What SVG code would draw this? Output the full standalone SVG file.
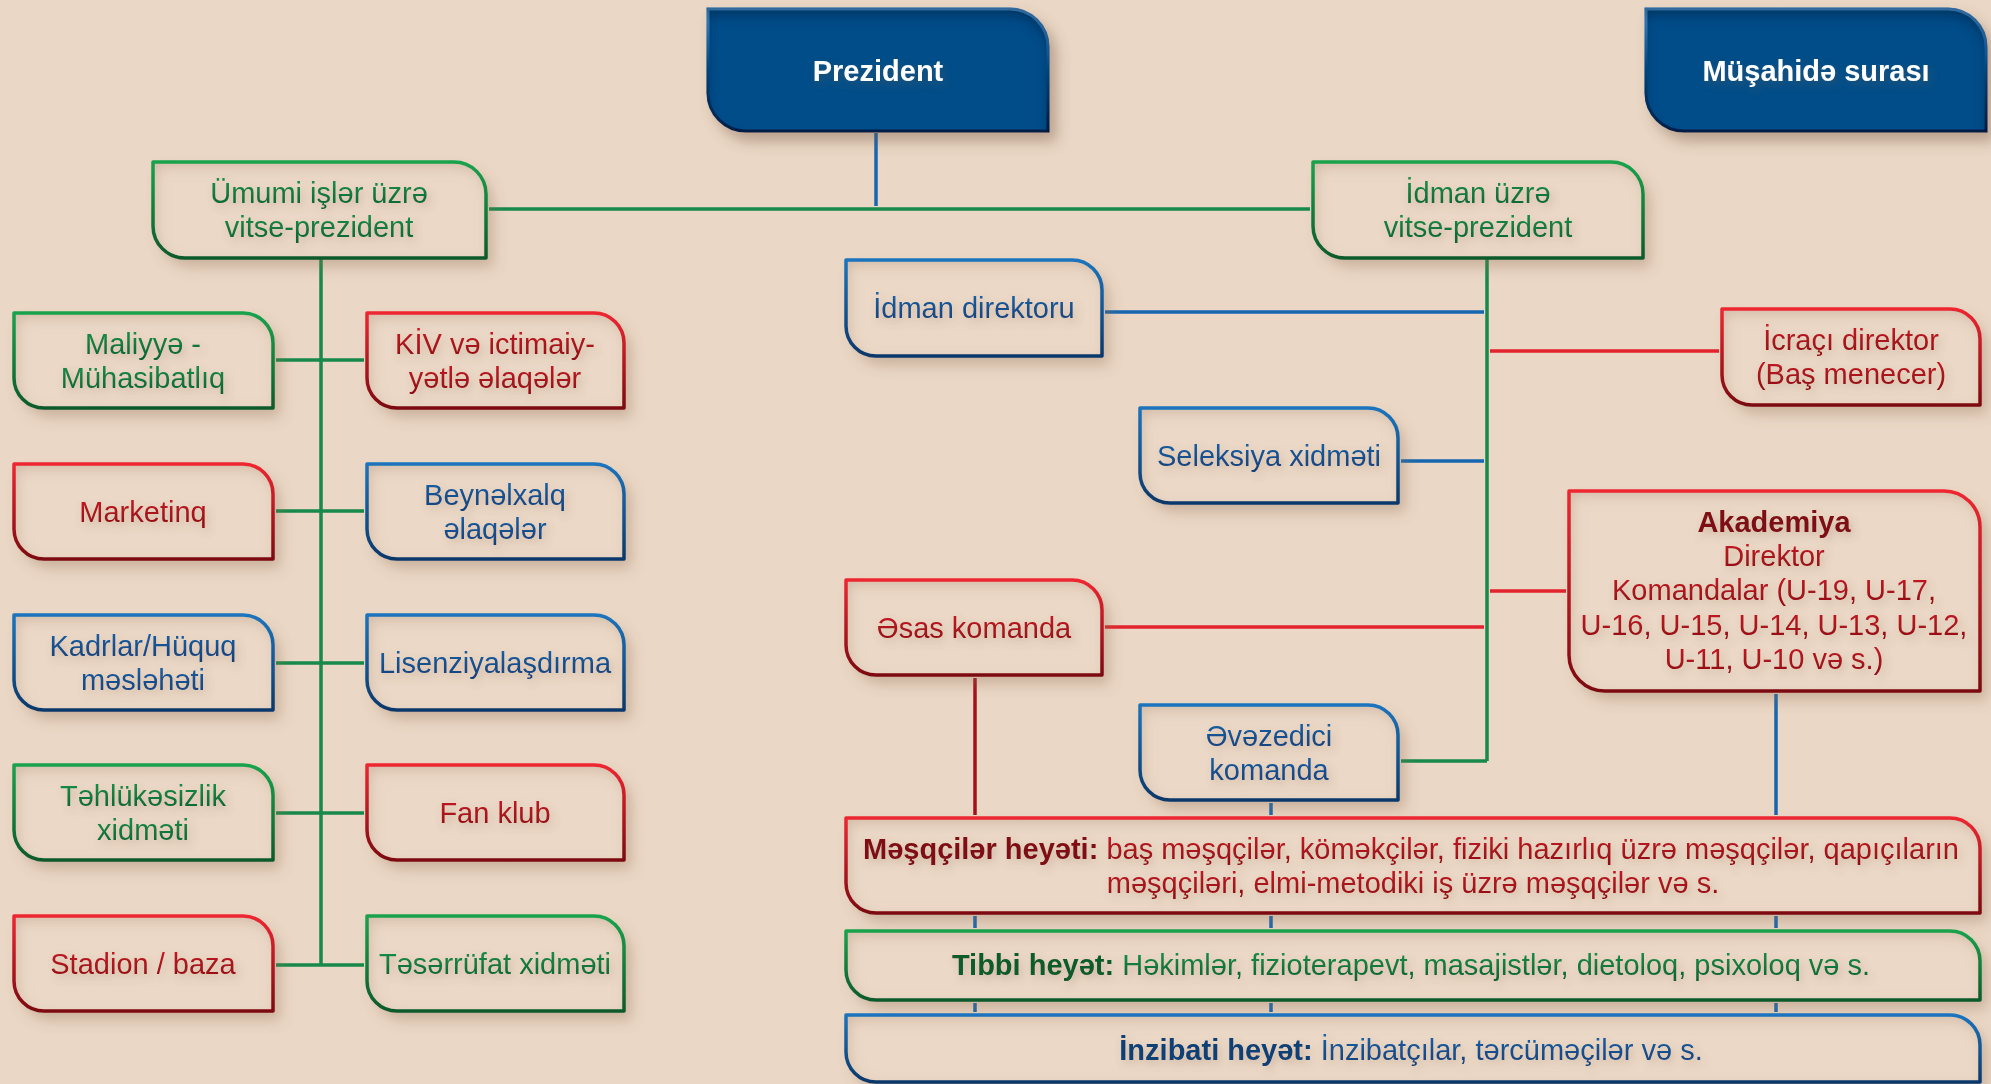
<svg xmlns="http://www.w3.org/2000/svg" width="1991" height="1084" viewBox="0 0 1991 1084">
<defs>
<linearGradient id="gG" x1="0" y1="0" x2="0" y2="1"><stop offset="0" stop-color="#19a24c"/><stop offset="1" stop-color="#0c5a2b"/></linearGradient>
<linearGradient id="gR" x1="0" y1="0" x2="0" y2="1"><stop offset="0" stop-color="#ee2631"/><stop offset="1" stop-color="#7c0a10"/></linearGradient>
<linearGradient id="gB" x1="0" y1="0" x2="0" y2="1"><stop offset="0" stop-color="#1b74bd"/><stop offset="1" stop-color="#0b386b"/></linearGradient>
<linearGradient id="gT" x1="0" y1="0" x2="0" y2="1"><stop offset="0" stop-color="#4b95d8"/><stop offset="0.5" stop-color="#0a4f8c"/><stop offset="1" stop-color="#00234a"/></linearGradient>
<linearGradient id="tG" x1="0" y1="0" x2="0" y2="1"><stop offset="0" stop-color="#17924a"/><stop offset="1" stop-color="#0d6232"/></linearGradient>
<linearGradient id="tR" x1="0" y1="0" x2="0" y2="1"><stop offset="0" stop-color="#c81b25"/><stop offset="1" stop-color="#8e0e15"/></linearGradient>
<linearGradient id="tB" x1="0" y1="0" x2="0" y2="1"><stop offset="0" stop-color="#1b62a8"/><stop offset="1" stop-color="#113f78"/></linearGradient>
<filter id="bx" x="-10%" y="-20%" width="125%" height="150%">
<feGaussianBlur in="SourceAlpha" stdDeviation="7" result="b1"/>
<feOffset in="b1" dx="7" dy="9" result="o1"/>
<feFlood flood-color="#8c6a4e" flood-opacity="0.35"/>
<feComposite in2="o1" operator="in" result="drop"/>
<feFlood flood-color="#a98a6f" flood-opacity="0.45"/>
<feComposite in2="SourceAlpha" operator="out"/>
<feGaussianBlur stdDeviation="7"/>
<feOffset dx="3" dy="5"/>
<feComposite in2="SourceAlpha" operator="in" result="inner"/>
<feMerge><feMergeNode in="drop"/><feMergeNode in="SourceGraphic"/><feMergeNode in="inner"/></feMerge>
</filter>
<filter id="tb" x="-10%" y="-20%" width="125%" height="150%">
<feGaussianBlur in="SourceAlpha" stdDeviation="7" result="b1"/>
<feOffset in="b1" dx="7" dy="9" result="o1"/>
<feFlood flood-color="#6e4f38" flood-opacity="0.4"/>
<feComposite in2="o1" operator="in" result="drop"/>
<feFlood flood-color="#00152f" flood-opacity="0.6"/>
<feComposite in2="SourceAlpha" operator="out"/>
<feGaussianBlur stdDeviation="6"/>
<feOffset dx="0" dy="8"/>
<feComposite in2="SourceAlpha" operator="in" result="inner"/>
<feMerge><feMergeNode in="drop"/><feMergeNode in="SourceGraphic"/><feMergeNode in="inner"/></feMerge>
</filter>
<filter id="ts" x="-10%" y="-30%" width="125%" height="170%">
<feGaussianBlur in="SourceAlpha" stdDeviation="4"/>
<feOffset dx="3" dy="4" result="o"/>
<feFlood flood-color="#7a5c44" flood-opacity="0.3"/>
<feComposite in2="o" operator="in" result="s"/>
<feMerge><feMergeNode in="s"/><feMergeNode in="SourceGraphic"/></feMerge>
</filter>
</defs>
<style>
.bg{fill:#EAD7C5}
.fill{fill:#EBD8C6;filter:url(#bx)}
.sg{fill:none;stroke:url(#gG);stroke-width:3.5;stroke-linejoin:round}
.sr{fill:none;stroke:url(#gR);stroke-width:3.5;stroke-linejoin:round}
.sb{fill:none;stroke:url(#gB);stroke-width:3.5;stroke-linejoin:round}
.title{fill:#034d89;stroke:url(#gT);stroke-width:3;filter:url(#tb)}
text{font-family:"Liberation Sans",Arial,sans-serif;font-size:29px;text-anchor:middle;filter:url(#ts)}
.tg{fill:url(#tG)}
.tr{fill:url(#tR)}
.tbl{fill:url(#tB)}
.tw{fill:#ffffff;font-weight:bold}
.b{font-weight:bold}
.bR{fill:#7e0b12}
.bG{fill:#0b5a2b}
.bB{fill:#0d3f75}
.cg{stroke:#17894a;stroke-width:3.5;fill:none}
.cr{stroke:#e3232d;stroke-width:3.5;fill:none}
.cdr{stroke:#a3121b;stroke-width:3.5;fill:none}
.cb{stroke:#1767b0;stroke-width:3.5;fill:none}
</style>
<rect class="bg" x="0" y="0" width="1991" height="1084"/>

<g id="connectors">
<path class="cg" d="M489 209 H1310"/>
<path class="cg" d="M321 258 V966"/>
<path class="cg" d="M276 360 H364 M276 511 H364 M276 663 H364 M276 813 H364 M276 965 H364"/>
<path class="cg" d="M1487 258 V761 M1401 761 H1487"/>
<path class="cb" d="M876 133 V206"/>
<path class="cb" d="M1105 312 H1484 M1401 461 H1484"/>
<path class="cb" d="M1776 694 V815 M1271 803 V815"/>
<path class="cb" d="M975 916 V928 M1271 916 V928 M1776 916 V928 M975 1003 V1012 M1271 1003 V1012 M1776 1003 V1012"/>
<path class="cr" d="M1490 351 H1719 M1490 591 H1566 M1105 627 H1484"/>
<path class="cdr" d="M975 678 V815"/>
</g>

<g id="prezident">
<path class="title" d="M708 9 H1010 A38 38 0 0 1 1048 47 V131 H746 A38 38 0 0 1 708 93 Z"/>
<text class="tw" x="878" y="81">Prezident</text>
</g>
<g id="musahide-surasi">
<path class="title" d="M1646 9 H1948 A38 38 0 0 1 1986 47 V131 H1684 A38 38 0 0 1 1646 93 Z"/>
<text class="tw" x="1816" y="81">Müşahidə surası</text>
</g>

<g id="umumi-vp">
<path class="fill" d="M153 162 H454 A32 32 0 0 1 486 194 V258 H185 A32 32 0 0 1 153 226 Z"/>
<path class="sg" d="M153 162 H454 A32 32 0 0 1 486 194 V258 H185 A32 32 0 0 1 153 226 Z"/>
<text class="tg" x="319" y="203">Ümumi işlər üzrə</text>
<text class="tg" x="319" y="237">vitse-prezident</text>
</g>
<g id="idman-vp">
<path class="fill" d="M1313 162 H1611 A32 32 0 0 1 1643 194 V258 H1345 A32 32 0 0 1 1313 226 Z"/>
<path class="sg" d="M1313 162 H1611 A32 32 0 0 1 1643 194 V258 H1345 A32 32 0 0 1 1313 226 Z"/>
<text class="tg" x="1478" y="203">İdman üzrə</text>
<text class="tg" x="1478" y="237">vitse-prezident</text>
</g>

<g id="maliyye">
<path class="fill" d="M14 313 H243 A30 30 0 0 1 273 343 V408 H44 A30 30 0 0 1 14 378 Z"/>
<path class="sg" d="M14 313 H243 A30 30 0 0 1 273 343 V408 H44 A30 30 0 0 1 14 378 Z"/>
<text class="tg" x="143" y="354">Maliyyə -</text>
<text class="tg" x="143" y="388">Mühasibatlıq</text>
</g>
<g id="kiv">
<path class="fill" d="M367 313 H594 A30 30 0 0 1 624 343 V408 H397 A30 30 0 0 1 367 378 Z"/>
<path class="sr" d="M367 313 H594 A30 30 0 0 1 624 343 V408 H397 A30 30 0 0 1 367 378 Z"/>
<text class="tr" x="495" y="354">KİV və ictimaiy-</text>
<text class="tr" x="495" y="388">yətlə əlaqələr</text>
</g>
<g id="marketinq">
<path class="fill" d="M14 464 H243 A30 30 0 0 1 273 494 V559 H44 A30 30 0 0 1 14 529 Z"/>
<path class="sr" d="M14 464 H243 A30 30 0 0 1 273 494 V559 H44 A30 30 0 0 1 14 529 Z"/>
<text class="tr" x="143" y="522">Marketinq</text>
</g>
<g id="beynelxalq">
<path class="fill" d="M367 464 H594 A30 30 0 0 1 624 494 V559 H397 A30 30 0 0 1 367 529 Z"/>
<path class="sb" d="M367 464 H594 A30 30 0 0 1 624 494 V559 H397 A30 30 0 0 1 367 529 Z"/>
<text class="tbl" x="495" y="505">Beynəlxalq</text>
<text class="tbl" x="495" y="539">əlaqələr</text>
</g>
<g id="kadrlar">
<path class="fill" d="M14 615 H243 A30 30 0 0 1 273 645 V710 H44 A30 30 0 0 1 14 680 Z"/>
<path class="sb" d="M14 615 H243 A30 30 0 0 1 273 645 V710 H44 A30 30 0 0 1 14 680 Z"/>
<text class="tbl" x="143" y="656">Kadrlar/Hüquq</text>
<text class="tbl" x="143" y="690">məsləhəti</text>
</g>
<g id="lisenziya">
<path class="fill" d="M367 615 H594 A30 30 0 0 1 624 645 V710 H397 A30 30 0 0 1 367 680 Z"/>
<path class="sb" d="M367 615 H594 A30 30 0 0 1 624 645 V710 H397 A30 30 0 0 1 367 680 Z"/>
<text class="tbl" x="495" y="673">Lisenziyalaşdırma</text>
</g>
<g id="tehlukesizlik">
<path class="fill" d="M14 765 H243 A30 30 0 0 1 273 795 V860 H44 A30 30 0 0 1 14 830 Z"/>
<path class="sg" d="M14 765 H243 A30 30 0 0 1 273 795 V860 H44 A30 30 0 0 1 14 830 Z"/>
<text class="tg" x="143" y="806">Təhlükəsizlik</text>
<text class="tg" x="143" y="840">xidməti</text>
</g>
<g id="fan-klub">
<path class="fill" d="M367 765 H594 A30 30 0 0 1 624 795 V860 H397 A30 30 0 0 1 367 830 Z"/>
<path class="sr" d="M367 765 H594 A30 30 0 0 1 624 795 V860 H397 A30 30 0 0 1 367 830 Z"/>
<text class="tr" x="495" y="823">Fan klub</text>
</g>
<g id="stadion">
<path class="fill" d="M14 916 H243 A30 30 0 0 1 273 946 V1011 H44 A30 30 0 0 1 14 981 Z"/>
<path class="sr" d="M14 916 H243 A30 30 0 0 1 273 946 V1011 H44 A30 30 0 0 1 14 981 Z"/>
<text class="tr" x="143" y="974">Stadion / baza</text>
</g>
<g id="teserrufat">
<path class="fill" d="M367 916 H594 A30 30 0 0 1 624 946 V1011 H397 A30 30 0 0 1 367 981 Z"/>
<path class="sg" d="M367 916 H594 A30 30 0 0 1 624 946 V1011 H397 A30 30 0 0 1 367 981 Z"/>
<text class="tg" x="495" y="974">Təsərrüfat xidməti</text>
</g>

<g id="idman-direktoru">
<path class="fill" d="M846 260 H1072 A30 30 0 0 1 1102 290 V356 H876 A30 30 0 0 1 846 326 Z"/>
<path class="sb" d="M846 260 H1072 A30 30 0 0 1 1102 290 V356 H876 A30 30 0 0 1 846 326 Z"/>
<text class="tbl" x="974" y="318">İdman direktoru</text>
</g>
<g id="icraci-direktor">
<path class="fill" d="M1722 309 H1950 A30 30 0 0 1 1980 339 V405 H1752 A30 30 0 0 1 1722 375 Z"/>
<path class="sr" d="M1722 309 H1950 A30 30 0 0 1 1980 339 V405 H1752 A30 30 0 0 1 1722 375 Z"/>
<text class="tr" x="1851" y="350">İcraçı direktor</text>
<text class="tr" x="1851" y="384">(Baş menecer)</text>
</g>
<g id="seleksiya">
<path class="fill" d="M1140 408 H1368 A30 30 0 0 1 1398 438 V503 H1170 A30 30 0 0 1 1140 473 Z"/>
<path class="sb" d="M1140 408 H1368 A30 30 0 0 1 1398 438 V503 H1170 A30 30 0 0 1 1140 473 Z"/>
<text class="tbl" x="1269" y="466">Seleksiya xidməti</text>
</g>
<g id="akademiya">
<path class="fill" d="M1569 491 H1944 A36 36 0 0 1 1980 527 V691 H1605 A36 36 0 0 1 1569 655 Z"/>
<path class="sr" d="M1569 491 H1944 A36 36 0 0 1 1980 527 V691 H1605 A36 36 0 0 1 1569 655 Z"/>
<text class="bR b" x="1774" y="532">Akademiya</text>
<text class="tr" x="1774" y="566">Direktor</text>
<text class="tr" x="1774" y="600">Komandalar (U-19, U-17,</text>
<text class="tr" x="1774" y="635">U-16, U-15, U-14, U-13, U-12,</text>
<text class="tr" x="1774" y="669">U-11, U-10 və s.)</text>
</g>
<g id="esas-komanda">
<path class="fill" d="M846 580 H1072 A30 30 0 0 1 1102 610 V675 H876 A30 30 0 0 1 846 645 Z"/>
<path class="sr" d="M846 580 H1072 A30 30 0 0 1 1102 610 V675 H876 A30 30 0 0 1 846 645 Z"/>
<text class="tr" x="974" y="638">Əsas komanda</text>
</g>
<g id="evezedici-komanda">
<path class="fill" d="M1140 705 H1368 A30 30 0 0 1 1398 735 V800 H1170 A30 30 0 0 1 1140 770 Z"/>
<path class="sb" d="M1140 705 H1368 A30 30 0 0 1 1398 735 V800 H1170 A30 30 0 0 1 1140 770 Z"/>
<text class="tbl" x="1269" y="746">Əvəzedici</text>
<text class="tbl" x="1269" y="780">komanda</text>
</g>
<g id="mesqciler-heyeti">
<path class="fill" d="M846 818 H1950 A30 30 0 0 1 1980 848 V913 H876 A30 30 0 0 1 846 883 Z"/>
<path class="sr" d="M846 818 H1950 A30 30 0 0 1 1980 848 V913 H876 A30 30 0 0 1 846 883 Z"/>
<text class="tr" x="1411" y="859"><tspan class="b bR">Məşqçilər heyəti:</tspan> baş məşqçilər, köməkçilər, fiziki hazırlıq üzrə məşqçilər, qapıçıların</text>
<text class="tr" x="1413" y="893">məşqçiləri, elmi-metodiki iş üzrə məşqçilər və s.</text>
</g>
<g id="tibbi-heyet">
<path class="fill" d="M846 931 H1950 A30 30 0 0 1 1980 961 V1000 H876 A30 30 0 0 1 846 970 Z"/>
<path class="sg" d="M846 931 H1950 A30 30 0 0 1 1980 961 V1000 H876 A30 30 0 0 1 846 970 Z"/>
<text class="tg" x="1411" y="975"><tspan class="b bG">Tibbi heyət:</tspan> Həkimlər, fizioterapevt, masajistlər, dietoloq, psixoloq və s.</text>
</g>
<g id="inzibati-heyet">
<path class="fill" d="M846 1015 H1950 A30 30 0 0 1 1980 1045 V1082 H876 A30 30 0 0 1 846 1052 Z"/>
<path class="sb" d="M846 1015 H1950 A30 30 0 0 1 1980 1045 V1082 H876 A30 30 0 0 1 846 1052 Z"/>
<text class="tbl" x="1411" y="1060"><tspan class="b bB">İnzibati heyət:</tspan> İnzibatçılar, tərcüməçilər və s.</text>
</g>
</svg>
